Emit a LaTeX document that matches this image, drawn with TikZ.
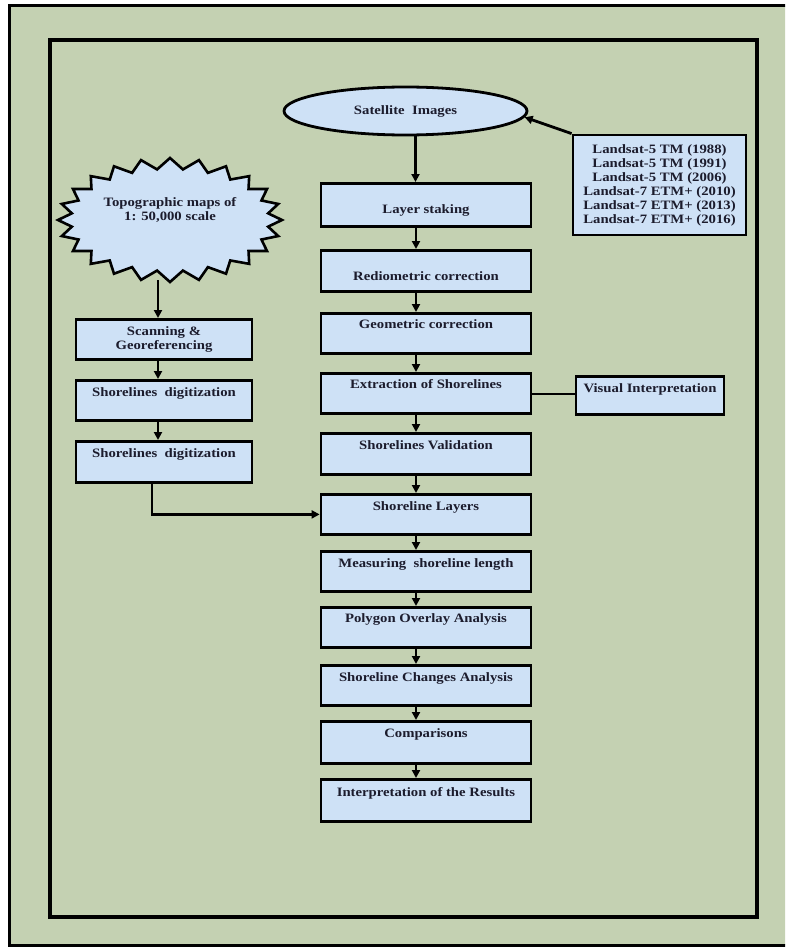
\documentclass[tikz,border=0pt]{standalone}
\usepackage{fontspec}
\setmainfont{Liberation Serif}[FakeStretch=1.15]
\usetikzlibrary{arrows.meta,shapes.geometric}
\definecolor{bggreen}{RGB}{196,209,178}
\definecolor{boxblue}{RGB}{206,225,246}
\definecolor{txt}{RGB}{28,28,45}
\begin{document}
\begin{tikzpicture}[x=1pt,y=-1pt,
  font=\fontsize{12.8}{14}\selectfont\bfseries,
  box/.style={draw=black, line width=2.8pt, fill=boxblue, text=txt, minimum width=210,
    inner xsep=2pt, inner ysep=0pt, anchor=north},
  arr/.style={line width=2.8pt, -{Triangle[length=8pt,width=8pt]}},
  link/.style={line width=2.8pt}]
\useasboundingbox (0,0) rectangle (785,947);
\clip (0,0) rectangle (785,947);
\fill[white] (0,0) rectangle (785,947);
% frames
\fill[bggreen] (9,6) rectangle (790,945);
\draw[line width=3pt] (790,6) -- (9,6) -- (9,945) -- (790,945);
\draw[line width=4pt] (50,40) rectangle (757,917);

% satellite ellipse and sources
\node[draw=black, line width=2.8pt, fill=boxblue, text=txt, ellipse, minimum width=243, minimum height=48, inner sep=0pt] (sat) at (405.5,111) {Satellite~~Images};
\node[draw=black, line width=2.8pt, fill=boxblue, text=txt, align=center, minimum width=173, minimum height=100, inner sep=1pt] (land) at (659.5,185)
  {Landsat-5 TM (1988)\\Landsat-5 TM (1991)\\Landsat-5 TM (2006)\\Landsat-7 ETM+ (2010)\\Landsat-7 ETM+ (2013)\\Landsat-7 ETM+ (2016)};

% main column
\node[box, text height=30, text depth=13] (stack) at (426,182) {Layer staking};
\node[box, text height=30, text depth=11] (radio) at (426,249) {Rediometric correction};
\node[box, text height=15, text depth=25] (geo) at (426,312) {Geometric correction};
\node[box, text height=15, text depth=25] (extr) at (426,372) {Extraction of Shorelines};
\node[box, text height=16, text depth=25] (valid) at (426,432) {Shorelines Validation};
\node[box, text height=16, text depth=24] (layers) at (426,493) {Shoreline Layers};
\node[box, text height=16, text depth=24] (meas) at (426,550) {Measuring~~shoreline length};
\node[box, text height=15, text depth=25] (poly) at (426,606) {Polygon Overlay Analysis};
\node[box, text height=16, text depth=24] (chg) at (426,664) {Shoreline Changes Analysis};
\node[box, text height=16, text depth=26] (comp) at (426,720) {Comparisons};
\node[box, text height=17, text depth=25] (interp) at (426,778) {Interpretation of the Results};

\node[box, minimum width=148, text height=16, text depth=22] (visual) at (650,375) {Visual Interpretation};

% left column
\draw[line width=2.6pt, fill=boxblue, line join=miter]
  plot[samples=49, domain=0:48, variable=\t]
  ({170 + (112 - 13*mod(round(\t),2))*cos(\t*7.5)}, {220 + (62 - 11*mod(round(\t),2))*sin(\t*7.5)}) -- cycle;
\node[text=txt, align=center, inner sep=0pt] (topo) at (170,210) {Topographic maps of\\1: 50,000 scale};
\coordinate (starb) at (158,280);

\node[box, minimum width=176, minimum height=40, align=center] (scan) at (164,318) {Scanning \&\\Georeferencing};
\node[box, minimum width=176, text height=16, text depth=24] (dig1) at (164,379) {Shorelines~~digitization};
\node[box, minimum width=176, text height=16, text depth=25] (dig2) at (164,440) {Shorelines~~digitization};

% connectors
\draw[arr] (land.north west) -- (sat.-3);
\draw[arr] ([xshift=10pt]sat.south) -- ([xshift=10pt]sat.south |- stack.north);
\foreach \a/\b in {stack/radio, radio/geo, geo/extr, extr/valid, valid/layers, layers/meas, meas/poly, poly/chg, chg/comp, comp/interp}
  \draw[arr] ([xshift=-10pt]\a.south) -- ([xshift=-10pt]\b.north);
\draw[link] (extr.east |- 0,394) -- (visual.west |- 0,394);
\draw[arr] (starb) -- (starb |- scan.north);
\draw[arr] ([xshift=-6pt]scan.south) -- ([xshift=-6pt]dig1.north);
\draw[arr] ([xshift=-6pt]dig1.south) -- ([xshift=-6pt]dig2.north);
\draw[arr] ([xshift=-12pt]dig2.south) |- (layers.west);
\end{tikzpicture}
\end{document}
